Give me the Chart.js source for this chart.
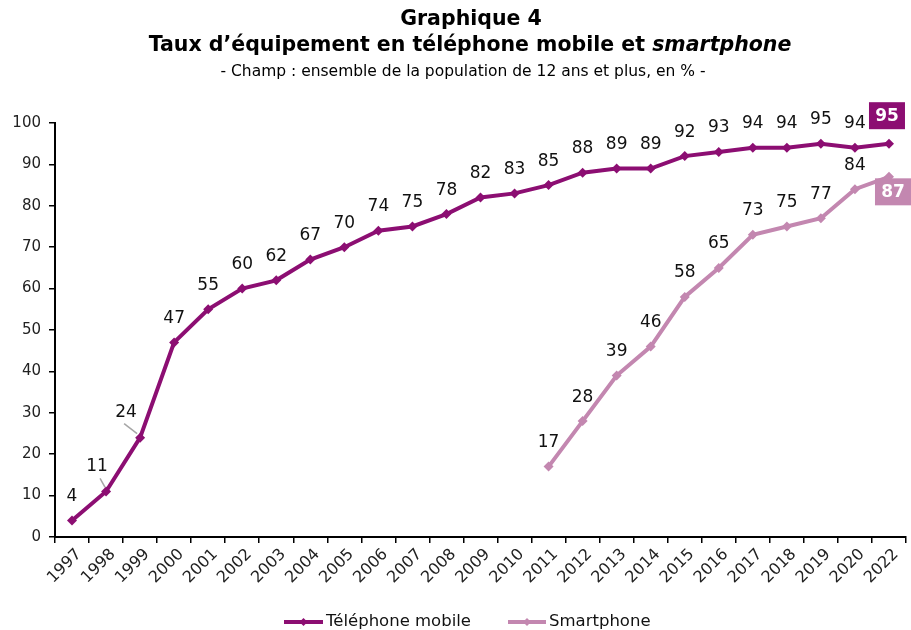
<!DOCTYPE html>
<html><head><meta charset="utf-8">
<script src="https://cdn.jsdelivr.net/npm/chart.js@4/dist/chart.umd.min.js"></script>
<style>html,body{margin:0;padding:0;background:#fff}canvas{display:block}</style>
</head><body>
<canvas id="c" width="911" height="630"></canvas>
<script>
const years = ['1997','1998','1999','2000','2001','2002','2003','2004','2005','2006','2007','2008','2009','2010','2011','2012','2013','2014','2015','2016','2017','2018','2019','2020','2022'];
const mobile = [4,11,24,47,55,60,62,67,70,74,75,78,82,83,85,88,89,89,92,93,94,94,95,94,95];
const smartphone = [null,null,null,null,null,null,null,null,null,null,null,null,null,null,17,28,39,46,58,65,73,75,77,84,87];
const seriesNames = ['Téléphone mobile','Smartphone'];
const titleLines = ['Graphique 4','Taux d’équipement en téléphone mobile et ','smartphone','- Champ : ensemble de la population de 12 ans et plus, en % -'];

const C_MOB = '#8C0E72', C_SMA = '#C387B0';
const FONT = '"DejaVu Sans", Verdana, sans-serif';

const overlay = {
  id:'overlay',
  afterDraw(chart){
    const ctx = chart.ctx;
    ctx.save();
    // titles
    ctx.fillStyle = '#000';
    ctx.textBaseline = 'middle';
    ctx.textAlign = 'center';
    ctx.font = 'bold 20.5px ' + FONT;
    ctx.fillText(titleLines[0], 471, 20);
    const fA = 'bold 20.5px ' + FONT, fB = 'italic bold 20.5px ' + FONT;
    ctx.font = fA; const wA = ctx.measureText(titleLines[1]).width;
    ctx.font = fB; const wB = ctx.measureText(titleLines[2]).width;
    let sx = 470 - (wA + wB) / 2;
    ctx.textAlign = 'left';
    ctx.font = fA; ctx.fillText(titleLines[1], sx, 46);
    ctx.font = fB; ctx.fillText(titleLines[2], sx + wA, 46);
    ctx.textAlign = 'center';
    ctx.font = '15.5px ' + FONT;
    ctx.fillText(titleLines[3], 463, 72);

    // data labels
    const n = years.length;
    chart.data.datasets.forEach((ds, di) => {
      const meta = chart.getDatasetMeta(di);
      ds.data.forEach((v, i) => {
        if (v === null) return;
        const p = meta.data[i];
        if (i === n - 1) {
          const cx = di === 0 ? p.x - 2 : p.x + 4;
          const cy = di === 0 ? p.y - 28 : p.y + 15;
          ctx.font = 'bold 17px ' + FONT;
          const w = 36, h = 27;
          ctx.fillStyle = di === 0 ? C_MOB : C_SMA;
          ctx.fillRect(cx - w/2, cy - h/2, w, h);
          ctx.fillStyle = '#fff';
          ctx.textAlign = 'center'; ctx.textBaseline = 'middle';
          ctx.fillText(String(v), cx, cy + 1);
          return;
        }
        let dx = 0, dy = -24;
        if (di === 0 && i === 1) { dx = -9; dy = -25; }
        if (di === 0 && i === 2) { dx = -14; dy = -25; }
        if (di === 0 && (i === 1 || i === 2)) {
          ctx.strokeStyle = '#a6a6a6'; ctx.lineWidth = 1.5;
          ctx.beginPath();
          if (i === 1) { ctx.moveTo(p.x - 6, p.y - 13); ctx.lineTo(p.x - 1, p.y - 4); }
          else { ctx.moveTo(p.x - 16, p.y - 14); ctx.lineTo(p.x - 3, p.y - 4); }
          ctx.stroke();
        }
        ctx.font = '17px ' + FONT;
        ctx.fillStyle = '#111';
        ctx.textAlign = 'center'; ctx.textBaseline = 'middle';
        ctx.fillText(String(v), p.x + dx, p.y + dy);
      });
    });

    // legend
    const items = [
      {x: 284, w: 39, c: C_MOB, t: seriesNames[0]},
      {x: 508, w: 38, c: C_SMA, t: seriesNames[1]}
    ];
    const ly = 622;
    items.forEach(it => {
      ctx.strokeStyle = it.c; ctx.lineWidth = 4;
      ctx.beginPath(); ctx.moveTo(it.x, ly); ctx.lineTo(it.x + it.w, ly); ctx.stroke();
      const mx = it.x + it.w/2;
      ctx.fillStyle = it.c;
      ctx.beginPath(); ctx.moveTo(mx, ly - 4); ctx.lineTo(mx + 4, ly); ctx.lineTo(mx, ly + 4); ctx.lineTo(mx - 4, ly); ctx.closePath(); ctx.fill();
      ctx.fillStyle = '#111'; ctx.font = '16.5px ' + FONT;
      ctx.textAlign = 'left'; ctx.textBaseline = 'middle';
      ctx.fillText(it.t, it.x + it.w + 3, ly);
    });
    ctx.restore();
  }
};

new Chart(document.getElementById('c'), {
  type: 'line',
  data: {
    labels: years,
    datasets: [
      {label: seriesNames[0], data: mobile, borderColor: C_MOB, backgroundColor: C_MOB, borderWidth: 4,
       pointStyle: 'rectRot', pointRadius: 5, pointBorderWidth: 0, tension: 0},
      {label: seriesNames[1], data: smartphone, borderColor: C_SMA, backgroundColor: C_SMA, borderWidth: 4,
       pointStyle: 'rectRot', pointRadius: 5, pointBorderWidth: 0, tension: 0, spanGaps: false}
    ]
  },
  options: {
    responsive: false,
    animation: false,
    layout: {padding: {top: 123, right: 5, bottom: 0, left: 0}},
    plugins: {legend: {display: false}, title: {display: false}, tooltip: {enabled: false}},
    scales: {
      x: {
        offset: true,
        grid: {offset: true, drawOnChartArea: false, tickLength: 6, color: '#000', lineWidth: 1.5},
        border: {color: '#000', width: 2},
        ticks: {color: '#222', font: {family: FONT, size: 16}, maxRotation: 45, minRotation: 45, autoSkip: false, padding: 2, labelOffset: 7},
        afterFit(s){ s.height = 93; }
      },
      y: {
        min: 0, max: 100,
        grid: {drawOnChartArea: false, tickLength: 6, color: '#000', lineWidth: 1.5},
        border: {color: '#000', width: 2},
        ticks: {stepSize: 10, color: '#222', font: {family: FONT, size: 15}, padding: 8},
        afterFit(s){ s.width = 55; }
      }
    }
  },
  plugins: [overlay]
});
</script>
</body></html>
